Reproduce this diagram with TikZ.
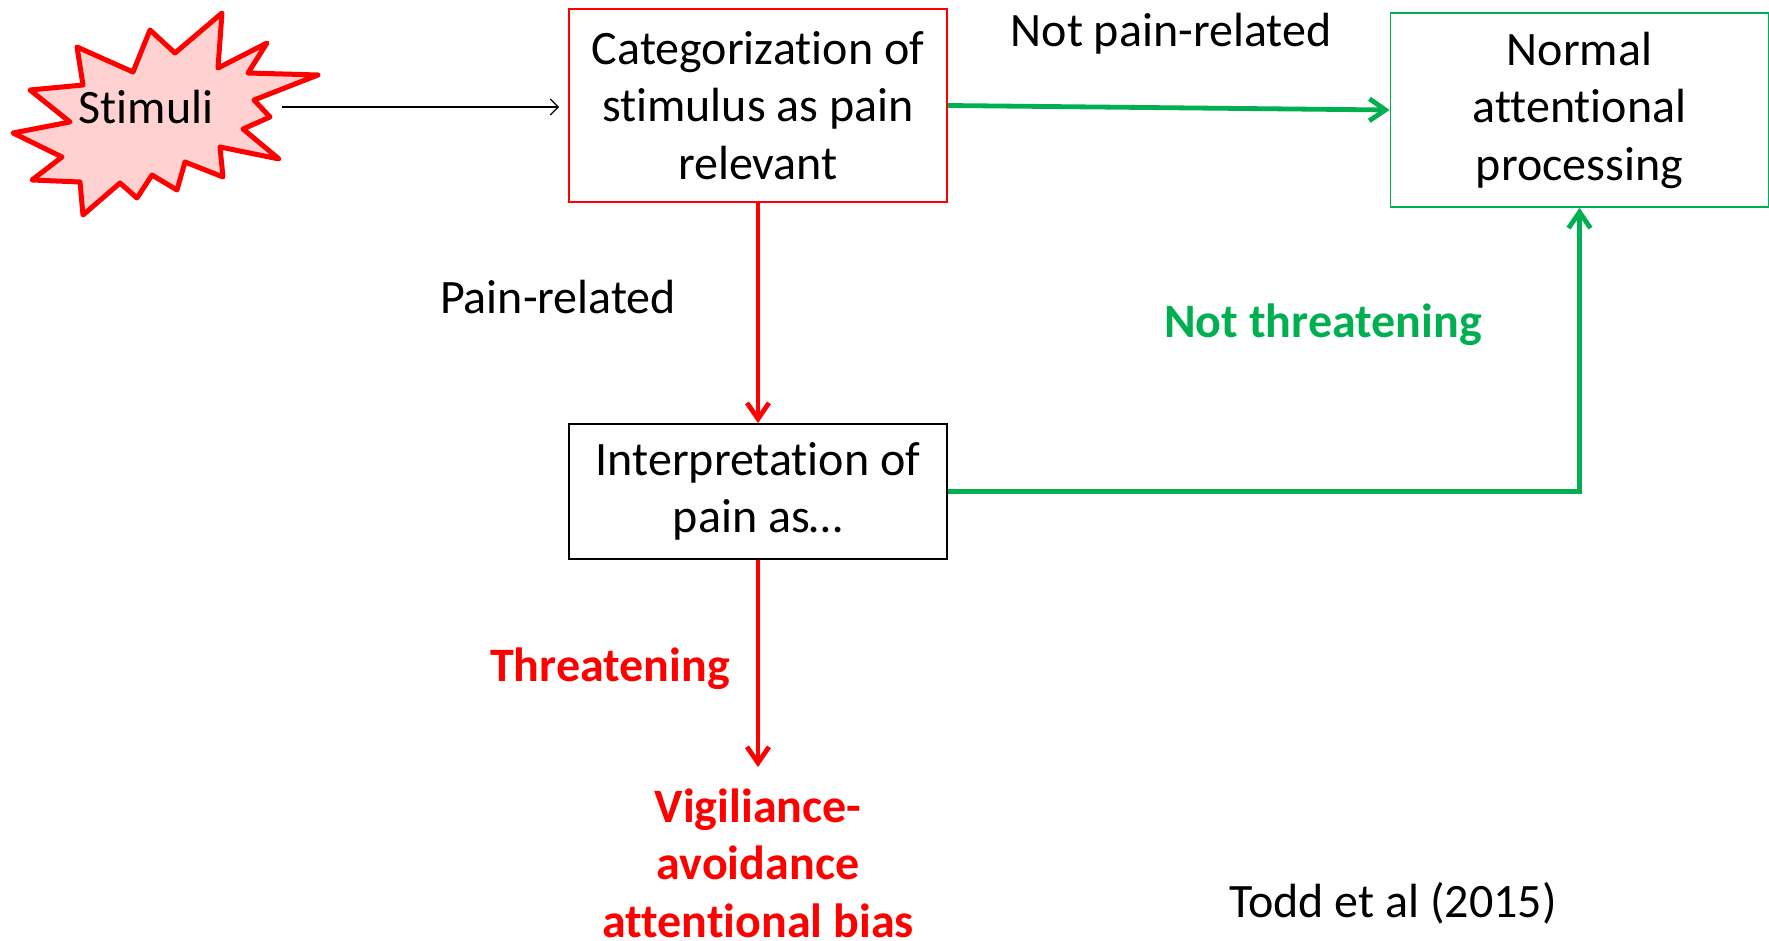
\documentclass[tikz,border=0pt]{standalone}
\usepackage{fontspec}
\setmainfont{Carlito}[RawFeature={-liga;-dlig;-calt;-clig}]
\usepackage{xcolor}
\usetikzlibrary{arrows.meta}
\definecolor{pptred}{RGB}{255,0,0}
\definecolor{pptgreen}{RGB}{0,176,80}
\tikzset{
box/.style = {rectangle, draw=#1, line width=0.9pt, minimum width=189pt, minimum height=96.5pt, align=center},
box/.default = black, % border colour
flow/.style = {->, line width=2.4pt, draw=#1},
}

\begin{document}
\begin{tikzpicture}[x=0.5pt, y=-0.5pt, font=\fontsize{24pt}{28.75pt}\selectfont,
    >={Straight Barb[length=8pt,width=11pt]}]
    \useasboundingbox (0,0) rectangle (1769,941);

    % the burst behind the stimulus
    \draw[line width=2.5pt, draw=pptred, fill=pptred!18, line join=round]
        (222,13) -- (218,68) -- (267,43) -- (248,73) -- (318,75) -- (254,100)
        -- (270,117) -- (243,129) -- (279,159) -- (220,147) -- (223,177) -- (185,162)
        -- (177,190) -- (152,175) -- (137,198) -- (120,183) -- (83,215) -- (80,182)
        -- (32,180) -- (62,157) -- (13,133) -- (70,122) -- (30,90) -- (83,85)
        -- (77,47) -- (133,72) -- (150,30) -- (175,53) -- cycle;

    \node[minimum width=136pt, inner sep=0pt] (stim) at (146,107) {Stimuli};
    \node[box=pptred] (categ) at (758,105.5) {Categorization of\\stimulus as pain\\relevant};
    \node[box=pptgreen, minimum height=97pt] (normal) at (1579.5,110) {Normal\\attentional\\processing};
    \node[box, minimum height=67.5pt] (interp) at (758,491.5) {Interpretation of\\pain as…};
    \node[align=center, text=pptred, font=\fontsize{24pt}{28.75pt}\selectfont\bfseries, inner xsep=2pt, inner ysep=10.5pt] (bias) at (758,863) {Vigiliance-\\avoidance\\attentional bias};

    \node (notpain) at (1171,34) {Not pain-related};
    \node (pain) at (558,297) {Pain-related};
    \node[text=pptgreen, font=\fontsize{24pt}{28.75pt}\selectfont\bfseries] (notthreat) at (1323,325) {Not threatening};
    \node[text=pptred, font=\fontsize{24pt}{28.75pt}\selectfont\bfseries] (threat) at (610,669) {Threatening};
    \node (source) at (1393,903) {Todd et al (2015)};

\draw[-{Straight Barb[length=4pt,width=8pt]}, line width=0.6pt, shorten >=4.5pt] (stim.east) -- (stim.east -| categ.west);
\draw[flow=pptgreen]  (categ.east) -- (normal.west);
\draw[flow=pptred]  (categ.south) -- (interp.north);
\draw[flow=pptgreen]  (interp.east) -| (normal.south);
\draw[flow=pptred]  (interp.south) -- (bias.north);

\end{tikzpicture}
\end{document}
